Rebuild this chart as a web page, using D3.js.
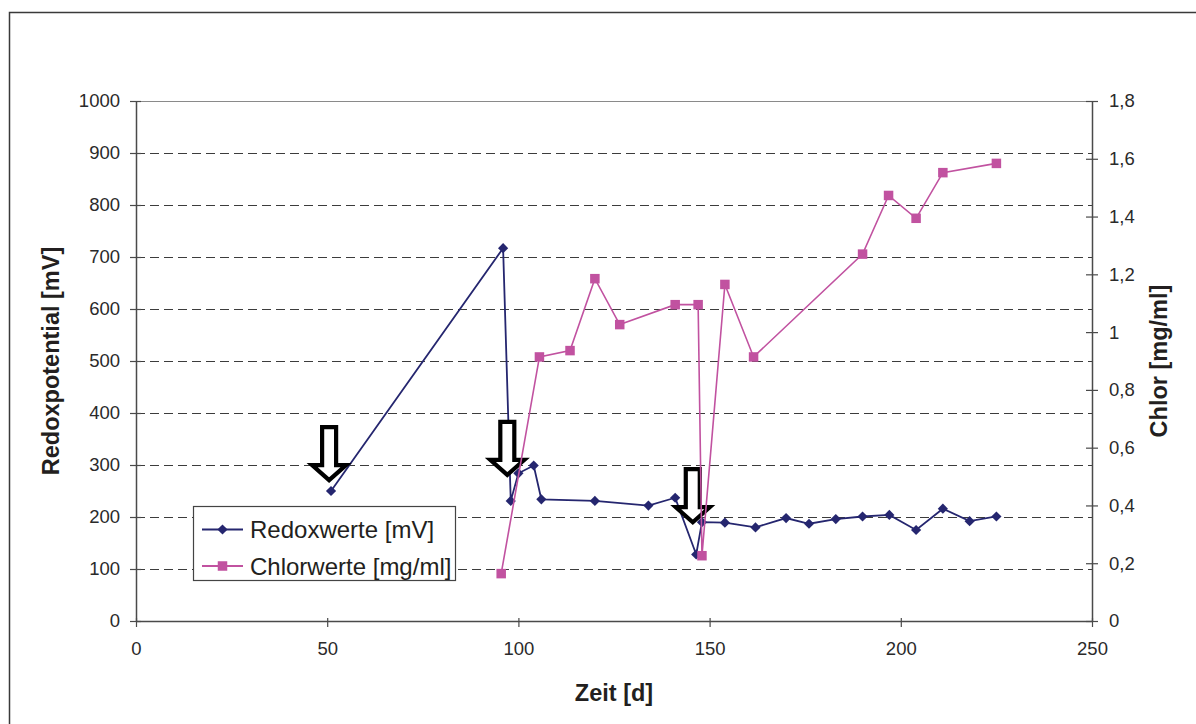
<!DOCTYPE html>
<html>
<head>
<meta charset="utf-8">
<script src="https://cdn.jsdelivr.net/npm/d3@7"></script>
<style>
  html, body { margin: 0; padding: 0; background: #fff; }
  svg { display: block; font-family: "Liberation Sans", Arial, sans-serif; }
</style>
</head>
<body>
<svg id="chart" width="1196" height="724"></svg>
<script>
// Redox potential series (days, mV)
const redoxDays   = [51, 96, 98, 100, 104, 106, 120, 134, 141, 146.5, 148, 154, 162, 170, 176, 183, 190, 197, 204, 211, 218, 225];
const redoxValues = [250, 717, 231, 284, 299, 234, 231, 222, 237, 128, 190, 189, 180, 198, 187, 196, 201, 204, 175, 216, 192, 201];

// Chlorine series (days, mg/ml)
const chlorDays   = [95.5, 105.5, 113.5, 120, 126.5, 141, 147, 148, 154, 161.5, 190, 196.8, 204, 211, 225];
const chlorValues = [0.164, 0.914, 0.936, 1.185, 1.026, 1.095, 1.095, 0.226, 1.165, 0.914, 1.27, 1.473, 1.394, 1.552, 1.584];

// Dosing events: arrow tips (day, mV)
const arrowDays   = [50.5, 97.1, 145.6];
const arrowValues = [271, 281, 190];

// Axis ticks
const xTicks      = [0, 50, 100, 150, 200, 250];
const leftTicks   = [0, 100, 200, 300, 400, 500, 600, 700, 800, 900, 1000];
const rightTicks  = [0, 0.2, 0.4, 0.6, 0.8, 1, 1.2, 1.4, 1.6, 1.8];

const legendLabels = ["Redoxwerte [mV]", "Chlorwerte [mg/ml]"];

const navy = "#25266f";
const magenta = "#c152a0";
const ink = "#231f20";

const svg = d3.select("#chart");

// outer frame
svg.append("rect")
  .attr("x", 9.5).attr("y", 12.5).attr("width", 1400).attr("height", 900)
  .attr("fill", "none").attr("stroke", "#3a3a3a").attr("stroke-width", 1.5);

const x  = d3.scaleLinear().domain([0, 250]).range([136, 1092]);
const yL = d3.scaleLinear().domain([0, 1000]).range([621, 101]);
const yR = d3.scaleLinear().domain([0, 1.8]).range([621, 101]);

// dashed gridlines at the primary axis ticks
svg.append("g").selectAll("line")
  .data(leftTicks.filter(v => v > 0 && v < 1000))
  .join("line")
  .attr("x1", x(0)).attr("x2", x(250))
  .attr("y1", d => Math.round(yL(d)) + 0.5).attr("y2", d => Math.round(yL(d)) + 0.5)
  .attr("stroke", "#3c3c3c").attr("stroke-width", 1)
  .attr("stroke-dasharray", "9,5");

// top border of the plot area
svg.append("line")
  .attr("x1", x(0)).attr("x2", x(250))
  .attr("y1", yL(1000) + 0.5).attr("y2", yL(1000) + 0.5)
  .attr("stroke", "#8a8a8a").attr("stroke-width", 1.2);

const de = d3.formatLocale({ decimal: ",", thousands: ".", grouping: [3], currency: ["", " €"] });
const fmtR = de.format(".1~f");
const fmtL = d3.format("d");

function styleAxis(g) {
  g.select(".domain").attr("stroke", "#4a4a4a").attr("stroke-width", 1.5);
  g.selectAll(".tick line").attr("stroke", "#4a4a4a").attr("stroke-width", 1.2);
  g.selectAll(".tick text")
    .attr("fill", "#2a2a2a")
    .style("font-size", "18.5px")
    .style("font-family", "'Liberation Sans', Arial, sans-serif");
}

// left axis
const gL = svg.append("g")
  .attr("transform", `translate(${x(0)},0)`)
  .call(d3.axisLeft(yL).tickValues(leftTicks).tickFormat(fmtL).tickSize(6).tickSizeOuter(0).tickPadding(10));
styleAxis(gL);
gL.selectAll(".tick line").attr("x1", 5);

// right axis
const gR = svg.append("g")
  .attr("transform", `translate(${x(250)},0)`)
  .call(d3.axisRight(yR).tickValues(rightTicks).tickFormat(fmtR).tickSize(6).tickSizeOuter(0).tickPadding(11));
styleAxis(gR);
gR.selectAll(".tick line").attr("x1", -6);

// bottom axis
const gB = svg.append("g")
  .attr("transform", `translate(0,${yL(0)})`)
  .call(d3.axisBottom(x).tickValues(xTicks).tickFormat(fmtL).tickSize(6).tickSizeOuter(0).tickPadding(15));
styleAxis(gB);
gB.selectAll(".tick line").attr("y1", -3);

// axis titles
svg.append("text")
  .attr("transform", `translate(59,${(yL(0) + yL(1000)) / 2}) rotate(-90)`)
  .attr("text-anchor", "middle")
  .attr("fill", ink).style("font-size", "23.5px").style("font-weight", "bold")
  .text("Redoxpotential [mV]");

svg.append("text")
  .attr("transform", `translate(1167,${(yR(0) + yR(1.8)) / 2}) rotate(-90)`)
  .attr("text-anchor", "middle")
  .attr("fill", ink).style("font-size", "23.5px").style("font-weight", "bold")
  .text("Chlor [mg/ml]");

svg.append("text")
  .attr("x", (x(0) + x(250)) / 2).attr("y", 701)
  .attr("text-anchor", "middle")
  .attr("fill", ink).style("font-size", "23.5px").style("font-weight", "bold")
  .text("Zeit [d]");

// redox series
const redox = redoxDays.map((d, i) => [d, redoxValues[i]]);
const chlor = chlorDays.map((d, i) => [d, chlorValues[i]]);

svg.append("path")
  .datum(redox)
  .attr("fill", "none").attr("stroke", navy).attr("stroke-width", 1.8)
  .attr("d", d3.line().x(d => x(d[0])).y(d => yL(d[1])));

const diamond = d3.symbol().type(d3.symbolSquare).size(52);
svg.append("g").selectAll("path")
  .data(redox).join("path")
  .attr("transform", d => `translate(${x(d[0])},${yL(d[1])}) rotate(45)`)
  .attr("d", diamond())
  .attr("fill", navy);

// dosing arrows (hollow, pointing down)
const arrowShape = "M-7,-53 L7,-53 L7,-15 L17,-15 L0,0 L-17,-15 L-7,-15 Z";
svg.append("g").selectAll("path")
  .data(arrowDays.map((d, i) => [d, arrowValues[i]]))
  .join("path")
  .attr("transform", d => `translate(${x(d[0])},${yL(d[1])})`)
  .attr("d", arrowShape)
  .attr("fill", "#fff").attr("stroke", "#000").attr("stroke-width", 4.2)
  .attr("stroke-linejoin", "miter");

// chlorine series
svg.append("path")
  .datum(chlor)
  .attr("fill", "none").attr("stroke", magenta).attr("stroke-width", 1.6)
  .attr("d", d3.line().x(d => x(d[0])).y(d => yR(d[1])));

svg.append("g").selectAll("rect")
  .data(chlor).join("rect")
  .attr("x", d => x(d[0]) - 4.75).attr("y", d => yR(d[1]) - 4.75)
  .attr("width", 9.5).attr("height", 9.5)
  .attr("fill", magenta);

// legend
const lg = svg.append("g");
lg.append("rect")
  .attr("x", 193.5).attr("y", 506.5).attr("width", 262).attr("height", 74)
  .attr("fill", "#fff").attr("stroke", "#444").attr("stroke-width", 1.2);

const legendColors = [navy, magenta];
legendLabels.forEach((label, i) => {
  const cy = 529.5 + i * 36.5;
  lg.append("line")
    .attr("x1", 202).attr("x2", 243).attr("y1", cy).attr("y2", cy)
    .attr("stroke", legendColors[i]).attr("stroke-width", 1.8);
  if (i === 0) {
    lg.append("path")
      .attr("transform", `translate(222.5,${cy}) rotate(45)`)
      .attr("d", diamond()).attr("fill", navy);
  } else {
    lg.append("rect")
      .attr("x", 222.5 - 4.75).attr("y", cy - 4.75).attr("width", 9.5).attr("height", 9.5)
      .attr("fill", magenta);
  }
  lg.append("text")
    .attr("x", 250).attr("y", cy + 8.5)
    .attr("fill", ink).style("font-size", "24px")
    .text(label);
});
</script>
</body>
</html>
